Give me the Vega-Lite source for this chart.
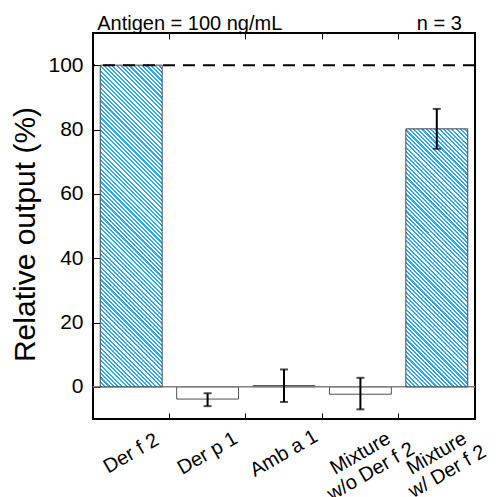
{
"$schema": "https://vega.github.io/schema/vega-lite/v6.json",
"width": 382, "height": 386,
"autosize": {"type": "none"},
"padding": {"left": 93, "top": 33, "right": 21, "bottom": 78},
"background": "white",
"config": {
  "view": {"stroke": "black", "strokeWidth": 2},
  "font": "Liberation Sans",
  "axis": {"labelFont": "Liberation Sans", "titleFont": "Liberation Sans", "labelColor": "black", "titleColor": "black", "grid": false, "domain": false, "tickColor": "black"}
},
"data": {"values": [
  {"cat": "Der f 2", "value": 100, "lo": null, "hi": null},
  {"cat": "Der p 1", "value": -3.8, "lo": -6.0, "hi": -2.0},
  {"cat": "Amb a 1", "value": 0.4, "lo": -4.7, "hi": 5.4},
  {"cat": "Mixture w/o Der f 2", "value": -2.3, "lo": -7.0, "hi": 2.8},
  {"cat": "Mixture w/ Der f 2", "value": 80.2, "lo": 74.0, "hi": 86.4}
]},
"layer": [
  {"transform": [{"filter": "datum.value < 50"}],
   "mark": {"type": "bar", "fill": "white", "stroke": "#505050", "strokeWidth": 1},
   "encoding": {
     "x": {"field": "cat", "type": "nominal", "scale": {"domain": ["Der f 2", "Der p 1", "Amb a 1", "Mixture w/o Der f 2", "Mixture w/ Der f 2"], "paddingInner": 0.19, "paddingOuter": 0.095},
       "axis": {"orient": "bottom", "title": null, "bandPosition": -0.1174, "tickSize": -6, "tickWidth": 1, "labelFontSize": 20, "labelAngle": -30, "labelAlign": "center", "labelBaseline": "middle", "labelPadding": 40, "labelLineHeight": 21, "labelOverlap": false, "labelBound": false, "labelFlush": false, "labelExpr": "indexof(datum.label, 'Mixture') == 0 ? ['Mixture', substring(datum.label, 8)] : datum.label"}},
     "y": {"field": "value", "type": "quantitative", "scale": {"domain": [-10, 110], "nice": false},
       "axis": {"orient": "left", "values": [0, 20, 40, 60, 80, 100], "tickSize": -7, "tickWidth": 1, "labelFontSize": 21, "labelPadding": 17, "title": "Relative output (%)", "titleFontSize": 30, "titleFontWeight": "normal", "titleX": -59, "titleY": 201, "titleAngle": -90, "titleAlign": "center", "titleBaseline": "alphabetic"}}
   }},
  {"data": {"values": [{}]},
   "mark": {"type": "rule", "color": "#808080", "strokeWidth": 1.5},
   "encoding": {"y": {"datum": 0, "type": "quantitative", "scale": {"domain": [-10, 110], "nice": false}, "axis": null}}},
  {"transform": [{"filter": "datum.cat == 'Der f 2'"}],
   "mark": {"type": "bar", "stroke": "#444444", "strokeWidth": 1,
     "fill": {"gradient": "linear", "x1": 0, "y1": 1, "x2": 0.2212, "y2": -0.1498, "stops": [
{"offset":0,"color":"#3ae"},
{"offset":0.0056,"color":"#3ae"},{"offset":0.0056,"color":"#fff"},{"offset":0.0111,"color":"#fff"},{"offset":0.0111,"color":"#3ae"},{"offset":0.0167,"color":"#3ae"},{"offset":0.0167,"color":"#fff"},{"offset":0.0222,"color":"#fff"},{"offset":0.0222,"color":"#3ae"},{"offset":0.0278,"color":"#3ae"},{"offset":0.0278,"color":"#fff"},{"offset":0.0333,"color":"#fff"},{"offset":0.0333,"color":"#3ae"},{"offset":0.0389,"color":"#3ae"},{"offset":0.0389,"color":"#fff"},{"offset":0.0444,"color":"#fff"},{"offset":0.0444,"color":"#3ae"},{"offset":0.05,"color":"#3ae"},{"offset":0.05,"color":"#fff"},{"offset":0.0556,"color":"#fff"},{"offset":0.0556,"color":"#3ae"},{"offset":0.0611,"color":"#3ae"},{"offset":0.0611,"color":"#fff"},{"offset":0.0667,"color":"#fff"},{"offset":0.0667,"color":"#3ae"},{"offset":0.0722,"color":"#3ae"},{"offset":0.0722,"color":"#fff"},{"offset":0.0778,"color":"#fff"},{"offset":0.0778,"color":"#3ae"},{"offset":0.0833,"color":"#3ae"},{"offset":0.0833,"color":"#fff"},{"offset":0.0889,"color":"#fff"},{"offset":0.0889,"color":"#3ae"},{"offset":0.0944,"color":"#3ae"},{"offset":0.0944,"color":"#fff"},
{"offset":0.1,"color":"#fff"},{"offset":0.1,"color":"#3ae"},{"offset":0.1056,"color":"#3ae"},{"offset":0.1056,"color":"#fff"},{"offset":0.1111,"color":"#fff"},{"offset":0.1111,"color":"#3ae"},{"offset":0.1167,"color":"#3ae"},{"offset":0.1167,"color":"#fff"},{"offset":0.1222,"color":"#fff"},{"offset":0.1222,"color":"#3ae"},{"offset":0.1278,"color":"#3ae"},{"offset":0.1278,"color":"#fff"},{"offset":0.1333,"color":"#fff"},{"offset":0.1333,"color":"#3ae"},{"offset":0.1389,"color":"#3ae"},{"offset":0.1389,"color":"#fff"},{"offset":0.1444,"color":"#fff"},{"offset":0.1444,"color":"#3ae"},{"offset":0.15,"color":"#3ae"},{"offset":0.15,"color":"#fff"},{"offset":0.1556,"color":"#fff"},{"offset":0.1556,"color":"#3ae"},{"offset":0.1611,"color":"#3ae"},{"offset":0.1611,"color":"#fff"},{"offset":0.1667,"color":"#fff"},{"offset":0.1667,"color":"#3ae"},{"offset":0.1722,"color":"#3ae"},{"offset":0.1722,"color":"#fff"},{"offset":0.1778,"color":"#fff"},{"offset":0.1778,"color":"#3ae"},{"offset":0.1833,"color":"#3ae"},{"offset":0.1833,"color":"#fff"},{"offset":0.1889,"color":"#fff"},{"offset":0.1889,"color":"#3ae"},{"offset":0.1944,"color":"#3ae"},{"offset":0.1944,"color":"#fff"},
{"offset":0.2,"color":"#fff"},{"offset":0.2,"color":"#3ae"},{"offset":0.2056,"color":"#3ae"},{"offset":0.2056,"color":"#fff"},{"offset":0.2111,"color":"#fff"},{"offset":0.2111,"color":"#3ae"},{"offset":0.2167,"color":"#3ae"},{"offset":0.2167,"color":"#fff"},{"offset":0.2222,"color":"#fff"},{"offset":0.2222,"color":"#3ae"},{"offset":0.2278,"color":"#3ae"},{"offset":0.2278,"color":"#fff"},{"offset":0.2333,"color":"#fff"},{"offset":0.2333,"color":"#3ae"},{"offset":0.2389,"color":"#3ae"},{"offset":0.2389,"color":"#fff"},{"offset":0.2444,"color":"#fff"},{"offset":0.2444,"color":"#3ae"},{"offset":0.25,"color":"#3ae"},{"offset":0.25,"color":"#fff"},{"offset":0.2556,"color":"#fff"},{"offset":0.2556,"color":"#3ae"},{"offset":0.2611,"color":"#3ae"},{"offset":0.2611,"color":"#fff"},{"offset":0.2667,"color":"#fff"},{"offset":0.2667,"color":"#3ae"},{"offset":0.2722,"color":"#3ae"},{"offset":0.2722,"color":"#fff"},{"offset":0.2778,"color":"#fff"},{"offset":0.2778,"color":"#3ae"},{"offset":0.2833,"color":"#3ae"},{"offset":0.2833,"color":"#fff"},{"offset":0.2889,"color":"#fff"},{"offset":0.2889,"color":"#3ae"},{"offset":0.2944,"color":"#3ae"},{"offset":0.2944,"color":"#fff"},
{"offset":0.3,"color":"#fff"},{"offset":0.3,"color":"#3ae"},{"offset":0.3056,"color":"#3ae"},{"offset":0.3056,"color":"#fff"},{"offset":0.3111,"color":"#fff"},{"offset":0.3111,"color":"#3ae"},{"offset":0.3167,"color":"#3ae"},{"offset":0.3167,"color":"#fff"},{"offset":0.3222,"color":"#fff"},{"offset":0.3222,"color":"#3ae"},{"offset":0.3278,"color":"#3ae"},{"offset":0.3278,"color":"#fff"},{"offset":0.3333,"color":"#fff"},{"offset":0.3333,"color":"#3ae"},{"offset":0.3389,"color":"#3ae"},{"offset":0.3389,"color":"#fff"},{"offset":0.3444,"color":"#fff"},{"offset":0.3444,"color":"#3ae"},{"offset":0.35,"color":"#3ae"},{"offset":0.35,"color":"#fff"},{"offset":0.3556,"color":"#fff"},{"offset":0.3556,"color":"#3ae"},{"offset":0.3611,"color":"#3ae"},{"offset":0.3611,"color":"#fff"},{"offset":0.3667,"color":"#fff"},{"offset":0.3667,"color":"#3ae"},{"offset":0.3722,"color":"#3ae"},{"offset":0.3722,"color":"#fff"},{"offset":0.3778,"color":"#fff"},{"offset":0.3778,"color":"#3ae"},{"offset":0.3833,"color":"#3ae"},{"offset":0.3833,"color":"#fff"},{"offset":0.3889,"color":"#fff"},{"offset":0.3889,"color":"#3ae"},{"offset":0.3944,"color":"#3ae"},{"offset":0.3944,"color":"#fff"},
{"offset":0.4,"color":"#fff"},{"offset":0.4,"color":"#3ae"},{"offset":0.4056,"color":"#3ae"},{"offset":0.4056,"color":"#fff"},{"offset":0.4111,"color":"#fff"},{"offset":0.4111,"color":"#3ae"},{"offset":0.4167,"color":"#3ae"},{"offset":0.4167,"color":"#fff"},{"offset":0.4222,"color":"#fff"},{"offset":0.4222,"color":"#3ae"},{"offset":0.4278,"color":"#3ae"},{"offset":0.4278,"color":"#fff"},{"offset":0.4333,"color":"#fff"},{"offset":0.4333,"color":"#3ae"},{"offset":0.4389,"color":"#3ae"},{"offset":0.4389,"color":"#fff"},{"offset":0.4444,"color":"#fff"},{"offset":0.4444,"color":"#3ae"},{"offset":0.45,"color":"#3ae"},{"offset":0.45,"color":"#fff"},{"offset":0.4556,"color":"#fff"},{"offset":0.4556,"color":"#3ae"},{"offset":0.4611,"color":"#3ae"},{"offset":0.4611,"color":"#fff"},{"offset":0.4667,"color":"#fff"},{"offset":0.4667,"color":"#3ae"},{"offset":0.4722,"color":"#3ae"},{"offset":0.4722,"color":"#fff"},{"offset":0.4778,"color":"#fff"},{"offset":0.4778,"color":"#3ae"},{"offset":0.4833,"color":"#3ae"},{"offset":0.4833,"color":"#fff"},{"offset":0.4889,"color":"#fff"},{"offset":0.4889,"color":"#3ae"},{"offset":0.4944,"color":"#3ae"},{"offset":0.4944,"color":"#fff"},
{"offset":0.5,"color":"#fff"},{"offset":0.5,"color":"#3ae"},{"offset":0.5056,"color":"#3ae"},{"offset":0.5056,"color":"#fff"},{"offset":0.5111,"color":"#fff"},{"offset":0.5111,"color":"#3ae"},{"offset":0.5167,"color":"#3ae"},{"offset":0.5167,"color":"#fff"},{"offset":0.5222,"color":"#fff"},{"offset":0.5222,"color":"#3ae"},{"offset":0.5278,"color":"#3ae"},{"offset":0.5278,"color":"#fff"},{"offset":0.5333,"color":"#fff"},{"offset":0.5333,"color":"#3ae"},{"offset":0.5389,"color":"#3ae"},{"offset":0.5389,"color":"#fff"},{"offset":0.5444,"color":"#fff"},{"offset":0.5444,"color":"#3ae"},{"offset":0.55,"color":"#3ae"},{"offset":0.55,"color":"#fff"},{"offset":0.5556,"color":"#fff"},{"offset":0.5556,"color":"#3ae"},{"offset":0.5611,"color":"#3ae"},{"offset":0.5611,"color":"#fff"},{"offset":0.5667,"color":"#fff"},{"offset":0.5667,"color":"#3ae"},{"offset":0.5722,"color":"#3ae"},{"offset":0.5722,"color":"#fff"},{"offset":0.5778,"color":"#fff"},{"offset":0.5778,"color":"#3ae"},{"offset":0.5833,"color":"#3ae"},{"offset":0.5833,"color":"#fff"},{"offset":0.5889,"color":"#fff"},{"offset":0.5889,"color":"#3ae"},{"offset":0.5944,"color":"#3ae"},{"offset":0.5944,"color":"#fff"},
{"offset":0.6,"color":"#fff"},{"offset":0.6,"color":"#3ae"},{"offset":0.6056,"color":"#3ae"},{"offset":0.6056,"color":"#fff"},{"offset":0.6111,"color":"#fff"},{"offset":0.6111,"color":"#3ae"},{"offset":0.6167,"color":"#3ae"},{"offset":0.6167,"color":"#fff"},{"offset":0.6222,"color":"#fff"},{"offset":0.6222,"color":"#3ae"},{"offset":0.6278,"color":"#3ae"},{"offset":0.6278,"color":"#fff"},{"offset":0.6333,"color":"#fff"},{"offset":0.6333,"color":"#3ae"},{"offset":0.6389,"color":"#3ae"},{"offset":0.6389,"color":"#fff"},{"offset":0.6444,"color":"#fff"},{"offset":0.6444,"color":"#3ae"},{"offset":0.65,"color":"#3ae"},{"offset":0.65,"color":"#fff"},{"offset":0.6556,"color":"#fff"},{"offset":0.6556,"color":"#3ae"},{"offset":0.6611,"color":"#3ae"},{"offset":0.6611,"color":"#fff"},{"offset":0.6667,"color":"#fff"},{"offset":0.6667,"color":"#3ae"},{"offset":0.6722,"color":"#3ae"},{"offset":0.6722,"color":"#fff"},{"offset":0.6778,"color":"#fff"},{"offset":0.6778,"color":"#3ae"},{"offset":0.6833,"color":"#3ae"},{"offset":0.6833,"color":"#fff"},{"offset":0.6889,"color":"#fff"},{"offset":0.6889,"color":"#3ae"},{"offset":0.6944,"color":"#3ae"},{"offset":0.6944,"color":"#fff"},
{"offset":0.7,"color":"#fff"},{"offset":0.7,"color":"#3ae"},{"offset":0.7056,"color":"#3ae"},{"offset":0.7056,"color":"#fff"},{"offset":0.7111,"color":"#fff"},{"offset":0.7111,"color":"#3ae"},{"offset":0.7167,"color":"#3ae"},{"offset":0.7167,"color":"#fff"},{"offset":0.7222,"color":"#fff"},{"offset":0.7222,"color":"#3ae"},{"offset":0.7278,"color":"#3ae"},{"offset":0.7278,"color":"#fff"},{"offset":0.7333,"color":"#fff"},{"offset":0.7333,"color":"#3ae"},{"offset":0.7389,"color":"#3ae"},{"offset":0.7389,"color":"#fff"},{"offset":0.7444,"color":"#fff"},{"offset":0.7444,"color":"#3ae"},{"offset":0.75,"color":"#3ae"},{"offset":0.75,"color":"#fff"},{"offset":0.7556,"color":"#fff"},{"offset":0.7556,"color":"#3ae"},{"offset":0.7611,"color":"#3ae"},{"offset":0.7611,"color":"#fff"},{"offset":0.7667,"color":"#fff"},{"offset":0.7667,"color":"#3ae"},{"offset":0.7722,"color":"#3ae"},{"offset":0.7722,"color":"#fff"},{"offset":0.7778,"color":"#fff"},{"offset":0.7778,"color":"#3ae"},{"offset":0.7833,"color":"#3ae"},{"offset":0.7833,"color":"#fff"},{"offset":0.7889,"color":"#fff"},{"offset":0.7889,"color":"#3ae"},{"offset":0.7944,"color":"#3ae"},{"offset":0.7944,"color":"#fff"},
{"offset":0.8,"color":"#fff"},{"offset":0.8,"color":"#3ae"},{"offset":0.8056,"color":"#3ae"},{"offset":0.8056,"color":"#fff"},{"offset":0.8111,"color":"#fff"},{"offset":0.8111,"color":"#3ae"},{"offset":0.8167,"color":"#3ae"},{"offset":0.8167,"color":"#fff"},{"offset":0.8222,"color":"#fff"},{"offset":0.8222,"color":"#3ae"},{"offset":0.8278,"color":"#3ae"},{"offset":0.8278,"color":"#fff"},{"offset":0.8333,"color":"#fff"},{"offset":0.8333,"color":"#3ae"},{"offset":0.8389,"color":"#3ae"},{"offset":0.8389,"color":"#fff"},{"offset":0.8444,"color":"#fff"},{"offset":0.8444,"color":"#3ae"},{"offset":0.85,"color":"#3ae"},{"offset":0.85,"color":"#fff"},{"offset":0.8556,"color":"#fff"},{"offset":0.8556,"color":"#3ae"},{"offset":0.8611,"color":"#3ae"},{"offset":0.8611,"color":"#fff"},{"offset":0.8667,"color":"#fff"},{"offset":0.8667,"color":"#3ae"},{"offset":0.8722,"color":"#3ae"},{"offset":0.8722,"color":"#fff"},{"offset":0.8778,"color":"#fff"},{"offset":0.8778,"color":"#3ae"},{"offset":0.8833,"color":"#3ae"},{"offset":0.8833,"color":"#fff"},{"offset":0.8889,"color":"#fff"},{"offset":0.8889,"color":"#3ae"},{"offset":0.8944,"color":"#3ae"},{"offset":0.8944,"color":"#fff"},
{"offset":0.9,"color":"#fff"},{"offset":0.9,"color":"#3ae"},{"offset":0.9056,"color":"#3ae"},{"offset":0.9056,"color":"#fff"},{"offset":0.9111,"color":"#fff"},{"offset":0.9111,"color":"#3ae"},{"offset":0.9167,"color":"#3ae"},{"offset":0.9167,"color":"#fff"},{"offset":0.9222,"color":"#fff"},{"offset":0.9222,"color":"#3ae"},{"offset":0.9278,"color":"#3ae"},{"offset":0.9278,"color":"#fff"},{"offset":0.9333,"color":"#fff"},{"offset":0.9333,"color":"#3ae"},{"offset":0.9389,"color":"#3ae"},{"offset":0.9389,"color":"#fff"},{"offset":0.9444,"color":"#fff"},{"offset":0.9444,"color":"#3ae"},{"offset":0.95,"color":"#3ae"},{"offset":0.95,"color":"#fff"},{"offset":0.9556,"color":"#fff"},{"offset":0.9556,"color":"#3ae"},{"offset":0.9611,"color":"#3ae"},{"offset":0.9611,"color":"#fff"},{"offset":0.9667,"color":"#fff"},{"offset":0.9667,"color":"#3ae"},{"offset":0.9722,"color":"#3ae"},{"offset":0.9722,"color":"#fff"},{"offset":0.9778,"color":"#fff"},{"offset":0.9778,"color":"#3ae"},{"offset":0.9833,"color":"#3ae"},{"offset":0.9833,"color":"#fff"},{"offset":0.9889,"color":"#fff"},{"offset":0.9889,"color":"#3ae"},{"offset":0.9944,"color":"#3ae"},{"offset":0.9944,"color":"#fff"},
{"offset":1,"color":"#fff"}
     ]}},
   "encoding": {
     "x": {"field": "cat", "type": "nominal", "scale": {"domain": ["Der f 2", "Der p 1", "Amb a 1", "Mixture w/o Der f 2", "Mixture w/ Der f 2"], "paddingInner": 0.19, "paddingOuter": 0.095}, "axis": null},
     "y": {"field": "value", "type": "quantitative", "scale": {"domain": [-10, 110], "nice": false}, "axis": null}
   }},
  {"transform": [{"filter": "datum.cat == 'Mixture w/ Der f 2'"}],
   "mark": {"type": "bar", "stroke": "#444444", "strokeWidth": 1,
     "fill": {"gradient": "linear", "x1": 0, "y1": 1, "x2": 0.2813, "y2": -0.1724, "stops": [
{"offset":0,"color":"#3ae"},
{"offset":0.0067,"color":"#3ae"},{"offset":0.0067,"color":"#fff"},{"offset":0.0133,"color":"#fff"},{"offset":0.0133,"color":"#3ae"},{"offset":0.02,"color":"#3ae"},{"offset":0.02,"color":"#fff"},{"offset":0.0267,"color":"#fff"},{"offset":0.0267,"color":"#3ae"},{"offset":0.0333,"color":"#3ae"},{"offset":0.0333,"color":"#fff"},{"offset":0.04,"color":"#fff"},{"offset":0.04,"color":"#3ae"},{"offset":0.0467,"color":"#3ae"},{"offset":0.0467,"color":"#fff"},{"offset":0.0533,"color":"#fff"},{"offset":0.0533,"color":"#3ae"},{"offset":0.06,"color":"#3ae"},{"offset":0.06,"color":"#fff"},{"offset":0.0667,"color":"#fff"},{"offset":0.0667,"color":"#3ae"},{"offset":0.0733,"color":"#3ae"},{"offset":0.0733,"color":"#fff"},{"offset":0.08,"color":"#fff"},{"offset":0.08,"color":"#3ae"},{"offset":0.0867,"color":"#3ae"},{"offset":0.0867,"color":"#fff"},{"offset":0.0933,"color":"#fff"},{"offset":0.0933,"color":"#3ae"},{"offset":0.1,"color":"#3ae"},{"offset":0.1,"color":"#fff"},{"offset":0.1067,"color":"#fff"},{"offset":0.1067,"color":"#3ae"},{"offset":0.1133,"color":"#3ae"},{"offset":0.1133,"color":"#fff"},{"offset":0.12,"color":"#fff"},{"offset":0.12,"color":"#3ae"},{"offset":0.1267,"color":"#3ae"},{"offset":0.1267,"color":"#fff"},{"offset":0.1333,"color":"#fff"},{"offset":0.1333,"color":"#3ae"},{"offset":0.14,"color":"#3ae"},{"offset":0.14,"color":"#fff"},{"offset":0.1467,"color":"#fff"},{"offset":0.1467,"color":"#3ae"},{"offset":0.1533,"color":"#3ae"},{"offset":0.1533,"color":"#fff"},{"offset":0.16,"color":"#fff"},{"offset":0.16,"color":"#3ae"},{"offset":0.1667,"color":"#3ae"},{"offset":0.1667,"color":"#fff"},{"offset":0.1733,"color":"#fff"},{"offset":0.1733,"color":"#3ae"},{"offset":0.18,"color":"#3ae"},{"offset":0.18,"color":"#fff"},{"offset":0.1867,"color":"#fff"},{"offset":0.1867,"color":"#3ae"},{"offset":0.1933,"color":"#3ae"},{"offset":0.1933,"color":"#fff"},
{"offset":0.2,"color":"#fff"},{"offset":0.2,"color":"#3ae"},{"offset":0.2067,"color":"#3ae"},{"offset":0.2067,"color":"#fff"},{"offset":0.2133,"color":"#fff"},{"offset":0.2133,"color":"#3ae"},{"offset":0.22,"color":"#3ae"},{"offset":0.22,"color":"#fff"},{"offset":0.2267,"color":"#fff"},{"offset":0.2267,"color":"#3ae"},{"offset":0.2333,"color":"#3ae"},{"offset":0.2333,"color":"#fff"},{"offset":0.24,"color":"#fff"},{"offset":0.24,"color":"#3ae"},{"offset":0.2467,"color":"#3ae"},{"offset":0.2467,"color":"#fff"},{"offset":0.2533,"color":"#fff"},{"offset":0.2533,"color":"#3ae"},{"offset":0.26,"color":"#3ae"},{"offset":0.26,"color":"#fff"},{"offset":0.2667,"color":"#fff"},{"offset":0.2667,"color":"#3ae"},{"offset":0.2733,"color":"#3ae"},{"offset":0.2733,"color":"#fff"},{"offset":0.28,"color":"#fff"},{"offset":0.28,"color":"#3ae"},{"offset":0.2867,"color":"#3ae"},{"offset":0.2867,"color":"#fff"},{"offset":0.2933,"color":"#fff"},{"offset":0.2933,"color":"#3ae"},{"offset":0.3,"color":"#3ae"},{"offset":0.3,"color":"#fff"},{"offset":0.3067,"color":"#fff"},{"offset":0.3067,"color":"#3ae"},{"offset":0.3133,"color":"#3ae"},{"offset":0.3133,"color":"#fff"},{"offset":0.32,"color":"#fff"},{"offset":0.32,"color":"#3ae"},{"offset":0.3267,"color":"#3ae"},{"offset":0.3267,"color":"#fff"},{"offset":0.3333,"color":"#fff"},{"offset":0.3333,"color":"#3ae"},{"offset":0.34,"color":"#3ae"},{"offset":0.34,"color":"#fff"},{"offset":0.3467,"color":"#fff"},{"offset":0.3467,"color":"#3ae"},{"offset":0.3533,"color":"#3ae"},{"offset":0.3533,"color":"#fff"},{"offset":0.36,"color":"#fff"},{"offset":0.36,"color":"#3ae"},{"offset":0.3667,"color":"#3ae"},{"offset":0.3667,"color":"#fff"},{"offset":0.3733,"color":"#fff"},{"offset":0.3733,"color":"#3ae"},{"offset":0.38,"color":"#3ae"},{"offset":0.38,"color":"#fff"},{"offset":0.3867,"color":"#fff"},{"offset":0.3867,"color":"#3ae"},{"offset":0.3933,"color":"#3ae"},{"offset":0.3933,"color":"#fff"},
{"offset":0.4,"color":"#fff"},{"offset":0.4,"color":"#3ae"},{"offset":0.4067,"color":"#3ae"},{"offset":0.4067,"color":"#fff"},{"offset":0.4133,"color":"#fff"},{"offset":0.4133,"color":"#3ae"},{"offset":0.42,"color":"#3ae"},{"offset":0.42,"color":"#fff"},{"offset":0.4267,"color":"#fff"},{"offset":0.4267,"color":"#3ae"},{"offset":0.4333,"color":"#3ae"},{"offset":0.4333,"color":"#fff"},{"offset":0.44,"color":"#fff"},{"offset":0.44,"color":"#3ae"},{"offset":0.4467,"color":"#3ae"},{"offset":0.4467,"color":"#fff"},{"offset":0.4533,"color":"#fff"},{"offset":0.4533,"color":"#3ae"},{"offset":0.46,"color":"#3ae"},{"offset":0.46,"color":"#fff"},{"offset":0.4667,"color":"#fff"},{"offset":0.4667,"color":"#3ae"},{"offset":0.4733,"color":"#3ae"},{"offset":0.4733,"color":"#fff"},{"offset":0.48,"color":"#fff"},{"offset":0.48,"color":"#3ae"},{"offset":0.4867,"color":"#3ae"},{"offset":0.4867,"color":"#fff"},{"offset":0.4933,"color":"#fff"},{"offset":0.4933,"color":"#3ae"},{"offset":0.5,"color":"#3ae"},{"offset":0.5,"color":"#fff"},{"offset":0.5067,"color":"#fff"},{"offset":0.5067,"color":"#3ae"},{"offset":0.5133,"color":"#3ae"},{"offset":0.5133,"color":"#fff"},{"offset":0.52,"color":"#fff"},{"offset":0.52,"color":"#3ae"},{"offset":0.5267,"color":"#3ae"},{"offset":0.5267,"color":"#fff"},{"offset":0.5333,"color":"#fff"},{"offset":0.5333,"color":"#3ae"},{"offset":0.54,"color":"#3ae"},{"offset":0.54,"color":"#fff"},{"offset":0.5467,"color":"#fff"},{"offset":0.5467,"color":"#3ae"},{"offset":0.5533,"color":"#3ae"},{"offset":0.5533,"color":"#fff"},{"offset":0.56,"color":"#fff"},{"offset":0.56,"color":"#3ae"},{"offset":0.5667,"color":"#3ae"},{"offset":0.5667,"color":"#fff"},{"offset":0.5733,"color":"#fff"},{"offset":0.5733,"color":"#3ae"},{"offset":0.58,"color":"#3ae"},{"offset":0.58,"color":"#fff"},{"offset":0.5867,"color":"#fff"},{"offset":0.5867,"color":"#3ae"},{"offset":0.5933,"color":"#3ae"},{"offset":0.5933,"color":"#fff"},
{"offset":0.6,"color":"#fff"},{"offset":0.6,"color":"#3ae"},{"offset":0.6067,"color":"#3ae"},{"offset":0.6067,"color":"#fff"},{"offset":0.6133,"color":"#fff"},{"offset":0.6133,"color":"#3ae"},{"offset":0.62,"color":"#3ae"},{"offset":0.62,"color":"#fff"},{"offset":0.6267,"color":"#fff"},{"offset":0.6267,"color":"#3ae"},{"offset":0.6333,"color":"#3ae"},{"offset":0.6333,"color":"#fff"},{"offset":0.64,"color":"#fff"},{"offset":0.64,"color":"#3ae"},{"offset":0.6467,"color":"#3ae"},{"offset":0.6467,"color":"#fff"},{"offset":0.6533,"color":"#fff"},{"offset":0.6533,"color":"#3ae"},{"offset":0.66,"color":"#3ae"},{"offset":0.66,"color":"#fff"},{"offset":0.6667,"color":"#fff"},{"offset":0.6667,"color":"#3ae"},{"offset":0.6733,"color":"#3ae"},{"offset":0.6733,"color":"#fff"},{"offset":0.68,"color":"#fff"},{"offset":0.68,"color":"#3ae"},{"offset":0.6867,"color":"#3ae"},{"offset":0.6867,"color":"#fff"},{"offset":0.6933,"color":"#fff"},{"offset":0.6933,"color":"#3ae"},{"offset":0.7,"color":"#3ae"},{"offset":0.7,"color":"#fff"},{"offset":0.7067,"color":"#fff"},{"offset":0.7067,"color":"#3ae"},{"offset":0.7133,"color":"#3ae"},{"offset":0.7133,"color":"#fff"},{"offset":0.72,"color":"#fff"},{"offset":0.72,"color":"#3ae"},{"offset":0.7267,"color":"#3ae"},{"offset":0.7267,"color":"#fff"},{"offset":0.7333,"color":"#fff"},{"offset":0.7333,"color":"#3ae"},{"offset":0.74,"color":"#3ae"},{"offset":0.74,"color":"#fff"},{"offset":0.7467,"color":"#fff"},{"offset":0.7467,"color":"#3ae"},{"offset":0.7533,"color":"#3ae"},{"offset":0.7533,"color":"#fff"},{"offset":0.76,"color":"#fff"},{"offset":0.76,"color":"#3ae"},{"offset":0.7667,"color":"#3ae"},{"offset":0.7667,"color":"#fff"},{"offset":0.7733,"color":"#fff"},{"offset":0.7733,"color":"#3ae"},{"offset":0.78,"color":"#3ae"},{"offset":0.78,"color":"#fff"},{"offset":0.7867,"color":"#fff"},{"offset":0.7867,"color":"#3ae"},{"offset":0.7933,"color":"#3ae"},{"offset":0.7933,"color":"#fff"},
{"offset":0.8,"color":"#fff"},{"offset":0.8,"color":"#3ae"},{"offset":0.8067,"color":"#3ae"},{"offset":0.8067,"color":"#fff"},{"offset":0.8133,"color":"#fff"},{"offset":0.8133,"color":"#3ae"},{"offset":0.82,"color":"#3ae"},{"offset":0.82,"color":"#fff"},{"offset":0.8267,"color":"#fff"},{"offset":0.8267,"color":"#3ae"},{"offset":0.8333,"color":"#3ae"},{"offset":0.8333,"color":"#fff"},{"offset":0.84,"color":"#fff"},{"offset":0.84,"color":"#3ae"},{"offset":0.8467,"color":"#3ae"},{"offset":0.8467,"color":"#fff"},{"offset":0.8533,"color":"#fff"},{"offset":0.8533,"color":"#3ae"},{"offset":0.86,"color":"#3ae"},{"offset":0.86,"color":"#fff"},{"offset":0.8667,"color":"#fff"},{"offset":0.8667,"color":"#3ae"},{"offset":0.8733,"color":"#3ae"},{"offset":0.8733,"color":"#fff"},{"offset":0.88,"color":"#fff"},{"offset":0.88,"color":"#3ae"},{"offset":0.8867,"color":"#3ae"},{"offset":0.8867,"color":"#fff"},{"offset":0.8933,"color":"#fff"},{"offset":0.8933,"color":"#3ae"},{"offset":0.9,"color":"#3ae"},{"offset":0.9,"color":"#fff"},{"offset":0.9067,"color":"#fff"},{"offset":0.9067,"color":"#3ae"},{"offset":0.9133,"color":"#3ae"},{"offset":0.9133,"color":"#fff"},{"offset":0.92,"color":"#fff"},{"offset":0.92,"color":"#3ae"},{"offset":0.9267,"color":"#3ae"},{"offset":0.9267,"color":"#fff"},{"offset":0.9333,"color":"#fff"},{"offset":0.9333,"color":"#3ae"},{"offset":0.94,"color":"#3ae"},{"offset":0.94,"color":"#fff"},{"offset":0.9467,"color":"#fff"},{"offset":0.9467,"color":"#3ae"},{"offset":0.9533,"color":"#3ae"},{"offset":0.9533,"color":"#fff"},{"offset":0.96,"color":"#fff"},{"offset":0.96,"color":"#3ae"},{"offset":0.9667,"color":"#3ae"},{"offset":0.9667,"color":"#fff"},{"offset":0.9733,"color":"#fff"},{"offset":0.9733,"color":"#3ae"},{"offset":0.98,"color":"#3ae"},{"offset":0.98,"color":"#fff"},{"offset":0.9867,"color":"#fff"},{"offset":0.9867,"color":"#3ae"},{"offset":0.9933,"color":"#3ae"},{"offset":0.9933,"color":"#fff"},
{"offset":1,"color":"#fff"}
     ]}},
   "encoding": {
     "x": {"field": "cat", "type": "nominal", "scale": {"domain": ["Der f 2", "Der p 1", "Amb a 1", "Mixture w/o Der f 2", "Mixture w/ Der f 2"], "paddingInner": 0.19, "paddingOuter": 0.095}, "axis": null},
     "y": {"field": "value", "type": "quantitative", "scale": {"domain": [-10, 110], "nice": false}, "axis": null}
   }},
  {"transform": [{"filter": "datum.lo != null"}],
   "mark": {"type": "rule", "color": "black", "strokeWidth": 2},
   "encoding": {
     "x": {"field": "cat", "type": "nominal", "scale": {"domain": ["Der f 2", "Der p 1", "Amb a 1", "Mixture w/o Der f 2", "Mixture w/ Der f 2"], "paddingInner": 0.19, "paddingOuter": 0.095},
       "axis": {"orient": "top", "title": null, "labels": false, "bandPosition": -0.1174, "tickSize": -6, "tickWidth": 1}},
     "y": {"field": "lo", "type": "quantitative", "scale": {"domain": [-10, 110], "nice": false}, "axis": null},
     "y2": {"field": "hi"}
   }},
  {"transform": [{"filter": "datum.lo != null"}],
   "mark": {"type": "tick", "orient": "horizontal", "color": "black", "size": 8, "thickness": 2},
   "encoding": {
     "x": {"field": "cat", "type": "nominal", "scale": {"domain": ["Der f 2", "Der p 1", "Amb a 1", "Mixture w/o Der f 2", "Mixture w/ Der f 2"], "paddingInner": 0.19, "paddingOuter": 0.095}, "axis": null},
     "y": {"field": "lo", "type": "quantitative", "scale": {"domain": [-10, 110], "nice": false}, "axis": null}
   }},
  {"transform": [{"filter": "datum.lo != null"}],
   "mark": {"type": "tick", "orient": "horizontal", "color": "black", "size": 8, "thickness": 2},
   "encoding": {
     "x": {"field": "cat", "type": "nominal", "scale": {"domain": ["Der f 2", "Der p 1", "Amb a 1", "Mixture w/o Der f 2", "Mixture w/ Der f 2"], "paddingInner": 0.19, "paddingOuter": 0.095}, "axis": null},
     "y": {"field": "hi", "type": "quantitative", "scale": {"domain": [-10, 110], "nice": false}, "axis": null}
   }},
  {"data": {"values": [{}]},
   "mark": {"type": "rule", "color": "black", "strokeWidth": 2, "strokeDash": [12, 8]},
   "encoding": {"y": {"datum": 100, "type": "quantitative", "scale": {"domain": [-10, 110], "nice": false}, "axis": null}}},
  {"data": {"values": [{}]},
   "mark": {"type": "text", "text": "Antigen = 100 ng/mL", "fontSize": 20, "fontWeight": "normal", "font": "Liberation Sans", "color": "black", "align": "left", "baseline": "alphabetic", "dx": -34, "dy": -3},
   "encoding": {
     "x": {"datum": "Der f 2", "type": "nominal", "scale": {"domain": ["Der f 2", "Der p 1", "Amb a 1", "Mixture w/o Der f 2", "Mixture w/ Der f 2"], "paddingInner": 0.19, "paddingOuter": 0.095}, "axis": null},
     "y": {"datum": 110, "type": "quantitative", "scale": {"domain": [-10, 110], "nice": false}, "axis": null}
   }},
  {"data": {"values": [{}]},
   "mark": {"type": "text", "text": "n = 3", "fontSize": 20, "fontWeight": "normal", "font": "Liberation Sans", "color": "black", "align": "right", "baseline": "alphabetic", "dx": 25, "dy": -3},
   "encoding": {
     "x": {"datum": "Mixture w/ Der f 2", "type": "nominal", "scale": {"domain": ["Der f 2", "Der p 1", "Amb a 1", "Mixture w/o Der f 2", "Mixture w/ Der f 2"], "paddingInner": 0.19, "paddingOuter": 0.095}, "axis": null},
     "y": {"datum": 110, "type": "quantitative", "scale": {"domain": [-10, 110], "nice": false}, "axis": null}
   }}
],
"resolve": {"axis": {"x": "independent", "y": "independent"}}
}
